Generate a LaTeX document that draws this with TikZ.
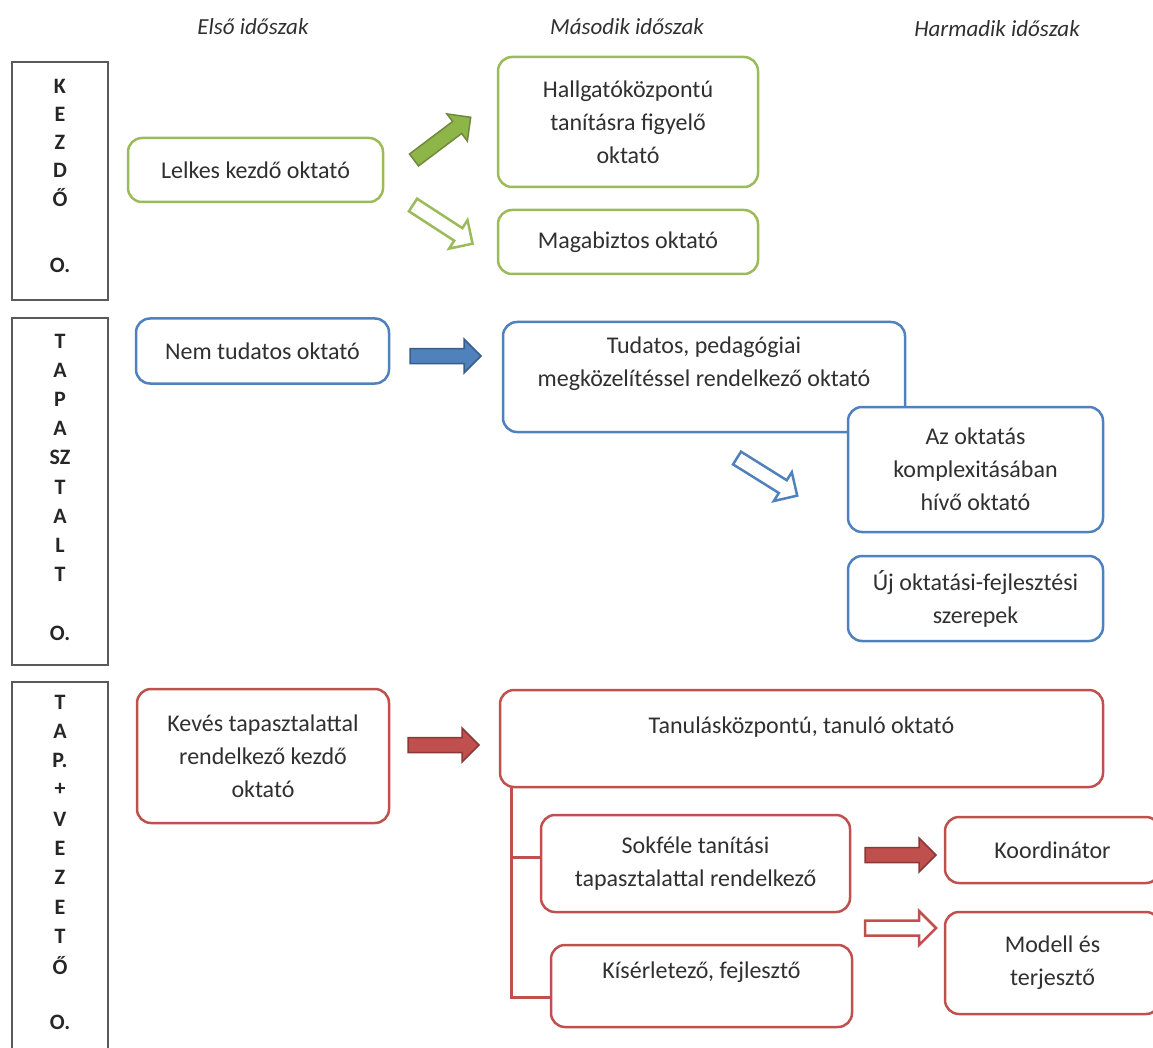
\documentclass[tikz,border=0pt]{standalone}
\usepackage{fontspec}
\setmainfont{Carlito}
\usepackage{tikz}

\definecolor{grn}{HTML}{9BBB59}
\definecolor{grnf}{HTML}{8DB548}
\definecolor{grnd}{HTML}{71893F}
\definecolor{blu}{HTML}{4F81BD}
\definecolor{blud}{HTML}{385D8A}
\definecolor{rd}{HTML}{C0504D}
\definecolor{rdd}{HTML}{8C3836}
\definecolor{txt}{HTML}{303030}

\begin{document}
\begin{tikzpicture}[x=1pt,y=-1pt]
    \tikzstyle{phase}=[draw=black!65, line width=2pt]
    \tikzstyle{box}=[rounded corners=14pt, line width=2.5pt, fill=white, align=center, inner sep=0pt, text=txt, font=\fontsize{24}{33}\selectfont]
    \tikzstyle{gbox}=[box, draw=grn]
    \tikzstyle{bbox}=[box, draw=blu]
    \tikzstyle{rbox}=[box, draw=rd]
    \tikzstyle{head}=[text=txt, font=\fontsize{23}{28}\selectfont\itshape]
    \tikzstyle{letter}=[text=black!85, font=\fontsize{22}{24}\selectfont\bfseries]

    \clip (0,0) rectangle (1153,1048);

    % periods
    \node[head] (h1) at (253,27) {Első időszak};
    \node[head] (h2) at (627,27) {Második időszak};
    \node[head] (h3) at (997,29) {Harmadik időszak};

    % left column
    \draw[phase] (12,62) rectangle (108,300);
    \draw[phase] (12,318) rectangle (108,665);
    \draw[phase] (12,682) rectangle (108,1070);
    \foreach \l [count=\i from 0] in {K,E,Z,D,Ő}
      {\node[letter] (k\i) at (60,86+28*\i) {\l};}
    \node[letter] (k5) at (60,265) {O.};
    \foreach \l [count=\i from 0] in {T,A,P,A,SZ,T,A,L,T}
      {\node[letter] (t\i) at (60,341+29.2*\i) {\l};}
    \node[letter] (t9) at (60,633) {O.};
    \foreach \l [count=\i from 0] in {T,A,P.,+,V,E,Z,E,T,Ő}
      {\node[letter] (v\i) at (60,702+29.3*\i) {\l};}
    \node[letter] (v10) at (60,1022) {O.};

    % green row
    \node[gbox, minimum width=255pt, minimum height=64pt] (lelkes) at (255.5,170) {Lelkes kezdő oktató};
    \node[gbox, minimum width=260pt, minimum height=130pt] (hallg) at (628,122) {Hallgatóközpontú\\tanításra figyelő\\oktató};
    \node[gbox, minimum width=260pt, minimum height=64pt] (magab) at (628,242) {Magabiztos oktató};

    % blue row
    \node[bbox, minimum width=253pt, minimum height=65pt] (nemtud) at (262.5,351) {Nem tudatos oktató};
    \node[bbox, minimum width=402pt, minimum height=110pt] (tudatos) at (704,377) {Tudatos, pedagógiai\\megközelítéssel rendelkező oktató\\[-12pt]\strut};
    \node[bbox, minimum width=255pt, minimum height=125pt] (komplex) at (975.5,469.5) {Az oktatás\\komplexitásában\\hívő oktató};
    \node[bbox, minimum width=255pt, minimum height=85pt] (uj) at (975.5,598.5) {Új oktatási-fejlesztési\\szerepek};

    % red row
    \node[rbox, minimum width=252pt, minimum height=134pt] (keves) at (263,756) {Kevés tapasztalattal\\rendelkező kezdő\\oktató};
    \node[rbox, minimum width=603pt, minimum height=97pt] (tanul) at (801.5,738.5) {Tanulásközpontú, tanuló oktató\\[-16pt]\strut};
    \node[rbox, minimum width=309pt, minimum height=97pt] (sokfele) at (695.5,863.5) {Sokféle tanítási\\tapasztalattal rendelkező};
    \node[rbox, minimum width=301pt, minimum height=82pt] (kiserl) at (701.5,986) {Kísérletező, fejlesztő\\[-12pt]\strut};
    \node[rbox, minimum width=215pt, minimum height=66pt] (koord) at (1052.5,850) {Koordinátor};
    \node[rbox, minimum width=215pt, minimum height=102pt] (modell) at (1052.5,963) {Modell és\\terjesztő};

    \coordinate (branch) at ([xshift=13pt]tanul.south west);
    \draw[draw=rd, line width=3pt] (branch) |- ([yshift=6pt]sokfele.west);
    \draw[draw=rd, line width=3pt] (branch) |- ([yshift=-11pt]kiserl.west);

    % block arrows: x/y/angle/style
    \tikzstyle{gfull}=[fill=grnf, draw=grnd, line width=1.5pt]
    \tikzstyle{gopen}=[fill=white, draw=grn, line width=2.5pt]
    \tikzstyle{bfull}=[fill=blu, draw=blud, line width=1.5pt]
    \tikzstyle{bopen}=[fill=white, draw=blu, line width=2.5pt]
    \tikzstyle{rfull}=[fill=rd, draw=rdd, line width=1.5pt]
    \tikzstyle{ropen}=[fill=white, draw=rd, line width=2.5pt]
    \foreach \x/\y/\a/\s in {414/160/37/gfull, 413/205/-33/gopen, 410/356/0/bfull, 737/458/-32/bopen,
                             408/745/0/rfull, 865/855/0/rfull, 865/928/0/ropen}
      {\begin{scope}[shift={(\x,\y)}, rotate=\a]
         \filldraw[\s] (0,-7.5) -- (54,-7.5) -- (54,-17) -- (71,0) -- (54,17) -- (54,7.5) -- (0,7.5) -- cycle;
       \end{scope}}
\end{tikzpicture}
\end{document}
